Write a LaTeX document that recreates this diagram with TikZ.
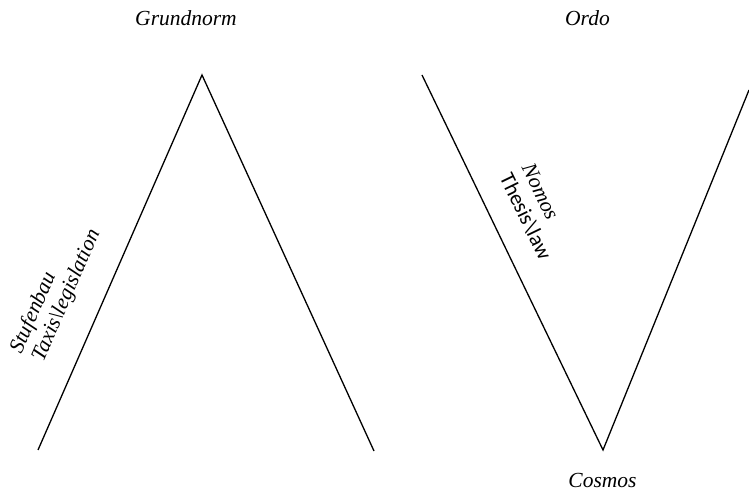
\documentclass[tikz,border=0pt]{standalone}
\usepackage{fontspec}
\setmainfont{Liberation Serif}
\newfontfamily\lawfont{Carlito}
\begin{document}
\begin{tikzpicture}[x=1pt, y=1pt, line width=1.3pt,
    lbl/.style={font=\fontsize{21.5}{25.8}\selectfont\itshape, inner sep=0pt},
    sanslbl/.style={font=\fontsize{21.5}{25.8}\selectfont\lawfont, inner sep=0pt}]
  \useasboundingbox (0,0) rectangle (749,492);

  % the peak
  \coordinate (peakL) at (38,42);
  \coordinate (peakT) at (202,417);
  \coordinate (peakR) at (374,41);
  \draw (peakL) -- (peakT) -- (peakR);

  % the valley
  \coordinate (valL) at (422,417);
  \coordinate (valB) at (603,42);
  \coordinate (valR) at (749,402);
  \draw (valL) -- (valB) -- (valR);

  \node[lbl, anchor=base] (grund) at (186,466) {Grundnorm};
  \node[lbl, anchor=base] (ordo) at (587.5,466) {Ordo};
  \node[lbl, anchor=base] (cosmos) at (602.5,4) {Cosmos};

  \node[lbl, anchor=base west, rotate=66.4] (stufen) at (21,137) {Stufenbau};
  \node[lbl, anchor=base west, rotate=66.4] (taxis) at (43,129) {Taxis\textbackslash legislation};

  \node[lbl, anchor=base west, rotate=-64.2] (nomos) at (521,325) {Nomos};
  \node[sanslbl, anchor=base west, rotate=-64.2] (thesis) at (499,315) {Thesis\textbackslash law};
\end{tikzpicture}
\end{document}
